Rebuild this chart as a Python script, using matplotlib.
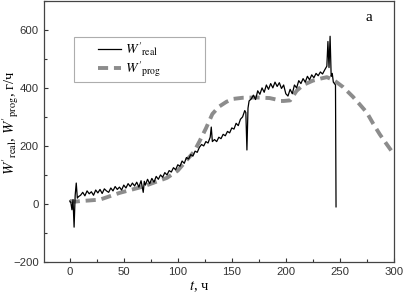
import matplotlib
matplotlib.use("Agg")
import matplotlib.pyplot as plt
from matplotlib.ticker import MultipleLocator
from matplotlib.legend_handler import HandlerLine2D

# Real measured series (t, W'real)
t_real = [0, 1, 2, 3, 4, 5, 6, 7, 8, 10, 12, 14, 16, 18, 20, 22, 24, 26, 28, 30,
          32, 34, 36, 38, 40, 42, 44, 46, 48, 50, 52, 54, 56, 58, 60, 62, 64, 66, 68, 69,
          70, 72, 74, 76, 78, 80, 82, 84, 86, 88, 90, 92, 94, 96, 98, 100, 102, 104, 106, 108,
          110, 112, 114, 116, 118, 120, 122, 124, 126, 128, 130, 131, 132, 134, 136, 138, 140, 142, 144, 146,
          148, 150, 152, 154, 156, 158, 160, 162, 163, 164, 165, 166, 168, 170, 172, 174, 176, 178, 180, 182,
          184, 186, 188, 190, 192, 194, 196, 198, 200, 202, 204, 206, 208, 210, 212, 214, 216, 218, 220, 222,
          224, 226, 228, 230, 232, 234, 236, 238, 239, 240, 241, 242, 243, 244, 245, 246, 246.5]
w_real = [10, 5, -20, 15, -80, 30, 72, 20, 25, 30, 40, 28, 45, 35, 42, 30, 48, 38, 50, 36,
          52, 45, 40, 55, 45, 60, 50, 58, 48, 65, 55, 70, 60, 72, 62, 75, 58, 80, 40, 78,
          65, 85, 70, 88, 75, 95, 85, 100, 92, 108, 100, 115, 110, 125, 118, 135, 130, 148, 140, 160,
          155, 170, 165, 182, 178, 195, 205, 200, 215, 210, 230, 265, 215, 222, 215, 230, 225, 240, 235, 250,
          245, 262, 258, 278, 270, 292, 300, 322, 315, 186, 330, 355, 362, 375, 360, 390, 378, 400, 385, 410,
          395, 415, 400, 420, 405, 418, 398, 410, 380, 372, 395, 380, 410, 400, 425, 415, 432, 420, 440, 428,
          445, 435, 450, 442, 455, 448, 462, 475, 560, 470, 578, 440, 450, 420, 415, 410, -10]

# Prognosis series (t, W'prog)
t_prog = [0, 5, 10, 18, 28, 46, 68, 90, 100, 108, 115, 120, 126, 132, 138, 145, 151, 160, 173, 185,
          191, 195, 198, 204, 210, 216, 225, 232, 238, 244, 253, 262, 268, 275, 281, 287, 293, 298]
w_prog = [10, 8, 10, 12, 15, 38, 60, 90, 115, 150, 180, 215, 260, 310, 335, 352, 362, 366, 367, 365,
          360, 355, 355, 357, 390, 410, 425, 432, 437, 428, 403, 370, 345, 315, 276, 240, 208, 182]

x_ticks = [0, 50, 100, 150, 200, 250, 300]
y_ticks = [-200, 0, 200, 400, 600]

plt.rcParams['mathtext.fontset'] = 'stix'

fig = plt.figure(figsize=(4.06, 2.95), dpi=100)
ax = fig.add_axes([0.108, 0.112, 0.862, 0.885])

ax.plot(t_prog, w_prog, color='#8c8c8c', lw=2.8, dashes=(2.6, 1.5),
        label=r"$W'_{\mathrm{prog}}$", zorder=2)
ax.plot(t_real, w_real, color='black', lw=0.9, label=r"$W'_{\mathrm{real}}$", zorder=3)

ax.set_xlim(-24, 300)
ax.set_ylim(-200, 700)
ax.set_xticks(x_ticks)
ax.set_yticks(y_ticks)
ax.xaxis.set_minor_locator(MultipleLocator(25))
ax.yaxis.set_minor_locator(MultipleLocator(100))
ax.tick_params(which='both', direction='in', top=False, right=False, colors='#333333')
ax.tick_params(which='major', length=3, width=0.8, labelsize=8.2)
ax.tick_params(which='minor', length=2, width=0.8)
for lab in ax.get_xticklabels() + ax.get_yticklabels():
    lab.set_fontfamily('Liberation Sans')
for s in ax.spines.values():
    s.set_color('#444444')
    s.set_linewidth(0.9)

fig.text(199 / 406, 1 - 287 / 295, r"$t$, ч", fontfamily='Liberation Serif', fontsize=10.5,
         ha='center', va='center')
fig.text(11 / 406, 1 - 123 / 295, r"$W'_{\mathrm{real}}$, $W'_{\mathrm{prog}}$, г/ч",
         fontfamily='Liberation Serif', fontsize=10.5, rotation=90, ha='center', va='center')

handles, labels = ax.get_legend_handles_labels()
leg = ax.legend(handles[::-1], labels[::-1], loc='upper left',
                bbox_to_anchor=(0.086, 0.697, 0.374, 0.165), bbox_transform=ax.transAxes,
                mode='expand', fontsize=10, frameon=True, fancybox=False,
                edgecolor='#999999', handlelength=3.15, borderaxespad=0,
                labelspacing=0.1, borderpad=0.25, handletextpad=0.3,
                handler_map={h: HandlerLine2D(xpad=1.45) for h in handles})
leg.get_frame().set_linewidth(0.8)

ax.text(0.93, 0.96, "a", transform=ax.transAxes, fontfamily='Liberation Serif',
        fontsize=11, ha='center', va='top')

fig.savefig("out.png", dpi=100)
